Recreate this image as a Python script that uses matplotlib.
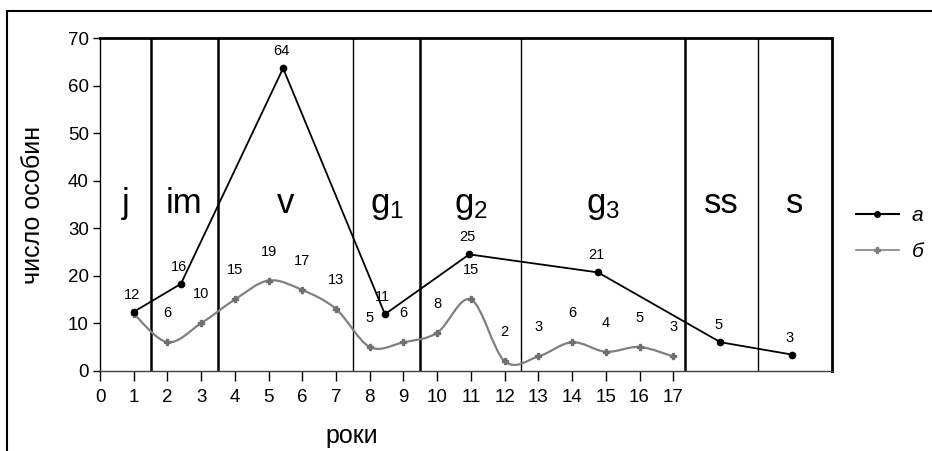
import matplotlib
matplotlib.use('Agg')
import matplotlib.pyplot as plt
from matplotlib.path import Path
from matplotlib.patches import PathPatch
from matplotlib.lines import Line2D

plt.rcParams['font.family'] = ['Liberation Sans', 'DejaVu Sans']
plt.rcParams['mathtext.default'] = 'regular'

# series "а" (black) - points sit at the borders of the age stages
a_x = [1, 2.4, 5.43, 8.45, 10.95, 14.77, 18.4, 20.52]
a_y = [12.4, 18.3, 63.7, 11.9, 24.5, 20.7, 6.0, 3.4]
a_labels = ['12', '16', '64', '11', '25', '21', '5', '3']

# series "б" (grey) - one value per year
b_x = list(range(1, 18))
b_y = [12, 6, 10, 15, 19, 17, 13, 5, 6, 8, 15, 2, 3, 6, 4, 5, 3]
b_labels = ['', '6', '10', '15', '19', '17', '13', '5', '6', '8', '15', '2', '3', '6', '4', '5', '3']

# age stages and their borders
stage_names = ['j', 'im', 'v', 'g$_1$', 'g$_2$', 'g$_3$', 'ss', 's']
stage_edges = [0, 1.5, 3.5, 7.5, 9.5, 12.5, 17.35, 19.5, 21.7]
thick_edges = [1.5, 3.5, 9.5, 17.35]

fig = plt.figure(figsize=(9.32, 4.51), dpi=100)
ax = fig.add_axes([0.1073, 0.178, 0.7851, 0.737])

# stage borders
for e in stage_edges[1:-1]:
    ax.axvline(e, color='black', lw=1.8 if e in thick_edges else 1.0, zorder=1)

for i, name in enumerate(stage_names):
    cx = (stage_edges[i] + stage_edges[i + 1]) / 2
    ax.text(cx, 33.3, name, ha='center', va='baseline', fontsize=25)

# smoothed grey line (bezier through the points, like excel)
verts = [(b_x[0], b_y[0])]
codes = [Path.MOVETO]
n = len(b_x)
for i in range(n - 1):
    p0 = (b_x[max(i - 1, 0)], b_y[max(i - 1, 0)])
    p1 = (b_x[i], b_y[i])
    p2 = (b_x[i + 1], b_y[i + 1])
    p3 = (b_x[min(i + 2, n - 1)], b_y[min(i + 2, n - 1)])
    c1 = (p1[0] + (p2[0] - p0[0]) / 6, p1[1] + (p2[1] - p0[1]) / 6)
    c2 = (p2[0] - (p3[0] - p1[0]) / 6, p2[1] - (p3[1] - p1[1]) / 6)
    verts += [c1, c2, p2]
    codes += [Path.CURVE4] * 3
ax.add_patch(PathPatch(Path(verts, codes), fill=False, edgecolor='#808080', lw=1.6, zorder=2))
ax.plot(b_x, b_y, ls='none', marker='P', ms=5, color='#707070', zorder=3)

ax.plot(a_x, a_y, color='black', lw=1.3, marker='o', ms=4.5, zorder=4)

for x, y, t in zip(b_x, b_y, b_labels):
    if t:
        ax.annotate(t, (x, y), xytext=(0, 22), textcoords='offset pixels',
                    ha='center', va='bottom', fontsize=10.5)
for x, y, t in zip(a_x, a_y, a_labels):
    ax.annotate(t, (x, y), xytext=(-2, 10), textcoords='offset pixels',
                ha='center', va='bottom', fontsize=10.5)

ax.set_xlim(0, 21.7)
ax.set_ylim(0, 70)
ax.set_xticks(range(0, 18))
ax.set_yticks(range(0, 71, 10))
ax.tick_params(axis='both', direction='out', labelsize=13.5, width=1)
ax.tick_params(axis='x', length=7, pad=6)
ax.tick_params(axis='y', length=5, pad=3)
for s in ['top', 'right']:
    ax.spines[s].set_linewidth(2)
for s in ['left', 'bottom']:
    ax.spines[s].set_linewidth(1)
ax.spines['bottom'].set_color('#404040')

ax.set_ylabel('число особин', fontsize=18)
ax.yaxis.set_label_coords(-0.075, 0.5)
ax.set_xlabel('роки', fontsize=18)
ax.xaxis.set_label_coords(0.344, -0.16)

handles = [Line2D([], [], color='black', lw=1.5, marker='o', ms=4),
           Line2D([], [], color='#808080', lw=1.2, marker='P', ms=5)]
fig.legend(handles, ['а', 'б'], loc='center left', bbox_to_anchor=(0.918, 0.482),
           frameon=False, borderpad=0, borderaxespad=0, handlelength=2.1,
           handletextpad=0.6, labelspacing=0.8, prop={'style': 'italic', 'size': 15})

# outer frame of the picture (only top and left visible)
fig.add_artist(Line2D([0.0075, 1], [0.9756, 0.9756], color='black', lw=1.5))
fig.add_artist(Line2D([0.0075, 0.0075], [0, 0.9756], color='black', lw=1.5))

fig.savefig('out.png', dpi=100)
